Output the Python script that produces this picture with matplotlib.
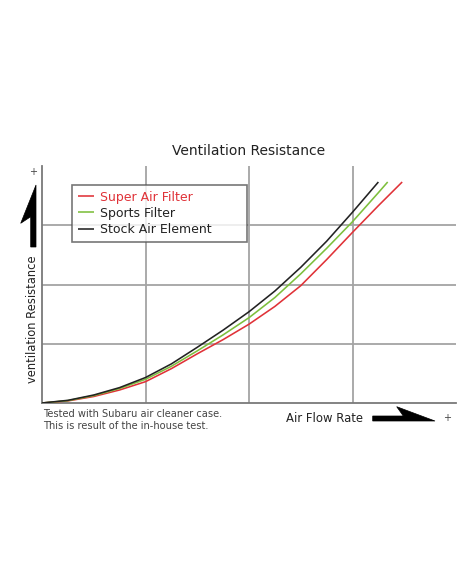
import matplotlib
matplotlib.use("Agg")
import matplotlib.pyplot as plt
from matplotlib.patches import Polygon

# ---- data (arbitrary units) ----
series_names = ["Super Air Filter", "Sports Filter", "Stock Air Element"]
series_colors = ["#e03238", "#7dbf3c", "#222222"]

super_x = [0, 0.25, 0.5, 0.75, 1.0, 1.25, 1.5, 1.75, 2.0, 2.25, 2.5, 2.75, 3.0, 3.25, 3.48]
super_y = [0, 0.035, 0.11, 0.22, 0.36, 0.58, 0.83, 1.07, 1.33, 1.63, 1.98, 2.42, 2.88, 3.33, 3.73]

sports_x = [0, 0.25, 0.5, 0.75, 1.0, 1.25, 1.5, 1.75, 2.0, 2.25, 2.5, 2.75, 3.0, 3.25, 3.34]
sports_y = [0, 0.04, 0.125, 0.245, 0.40, 0.62, 0.88, 1.15, 1.44, 1.78, 2.18, 2.61, 3.06, 3.55, 3.73]

stock_x = [0, 0.25, 0.5, 0.75, 1.0, 1.25, 1.5, 1.75, 2.0, 2.25, 2.5, 2.75, 3.0, 3.25]
stock_y = [0, 0.045, 0.135, 0.26, 0.43, 0.66, 0.94, 1.23, 1.54, 1.89, 2.29, 2.73, 3.22, 3.73]

grid_ticks = [1, 2, 3]

W, H = 470, 588
fig = plt.figure(figsize=(W / 100, H / 100), dpi=100)
plt.rcParams['font.family'] = ['DejaVu Sans']

def fx(px):
    return px / W

def fy(py):
    return 1 - py / H

ax = fig.add_axes([fx(42), fy(403), fx(456) - fx(42), fy(166) - fy(403)])
ax.set_xlim(0, 4)
ax.set_ylim(0, 4)

for x, y, name, col in zip([super_x, sports_x, stock_x],
                           [super_y, sports_y, stock_y],
                           series_names, series_colors):
    ax.plot(x, y, color=col, lw=1.15, label=name, solid_capstyle='butt',
            solid_joinstyle='round', zorder=3)

ax.set_xticks(grid_ticks)
ax.set_yticks(grid_ticks)
ax.grid(True, color="#a4a4a4", lw=1.3)
ax.tick_params(length=0, labelbottom=False, labelleft=False)
for s in ["top", "right"]:
    ax.spines[s].set_visible(False)
for s in ["left", "bottom"]:
    ax.spines[s].set_color("#7a7a7a")
    ax.spines[s].set_linewidth(1.3)

# legend
leg = ax.legend(loc="upper left",
                bbox_to_anchor=((72 - 42) / 414, (403 - 185) / 237, (247 - 72) / 414, 0.0),
                mode="expand", fontsize=9, frameon=True, fancybox=False,
                borderaxespad=0, handlelength=1.3, handletextpad=0.5,
                labelspacing=0.25, borderpad=0.45)
leg.get_frame().set_edgecolor("#555555")
leg.get_frame().set_linewidth(1.2)
leg.get_texts()[0].set_color(series_colors[0])
for t in leg.get_texts()[1:]:
    t.set_color("#222222")

# title and labels
fig.text(fx(249), fy(151), "Ventilation Resistance", ha="center", va="center",
         fontsize=10, color="#222222")
fig.text(fx(33), fy(319), "ventilation Resistance", ha="center", va="center",
         rotation=90, fontsize=8.3, color="#222222")
fig.text(fx(33), fy(172), "+", ha="center", va="center", fontsize=7, color="#444444")
fig.text(fx(325), fy(418), "Air Flow Rate", ha="center", va="center",
         fontsize=8.4, color="#222222")
fig.text(fx(447), fy(418), "+", ha="center", va="center", fontsize=7, color="#444444")
fig.text(fx(43), fy(414), "Tested with Subaru air cleaner case.", ha="left", va="center",
         fontsize=7.1, color="#444444")
fig.text(fx(43), fy(426), "This is result of the in-house test.", ha="left", va="center",
         fontsize=7.1, color="#444444")

# arrows (decorations)
up_arrow = [(30.7, 247), (30.7, 216.7), (20.7, 223.3), (36, 185), (36, 247)]
right_arrow = [(372.7, 416), (403.3, 416), (396.7, 406.7), (435, 421), (372.7, 421)]
for pts in (up_arrow, right_arrow):
    fig.patches.append(Polygon([(fx(a), fy(b)) for a, b in pts], closed=True,
                               transform=fig.transFigure, facecolor="black",
                               edgecolor="black", lw=0.5))

fig.savefig("out.png", dpi=100, facecolor="white")
